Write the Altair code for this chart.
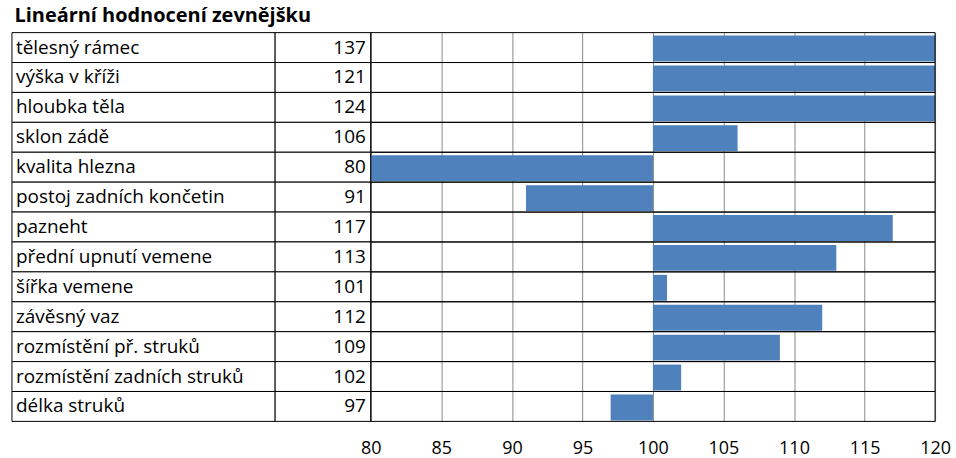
import altair as alt
import pandas as pd

categories = ["tělesný rámec", "výška v kříži", "hloubka těla", "sklon zádě",
              "kvalita hlezna", "postoj zadních končetin", "pazneht",
              "přední upnutí vemene", "šířka vemene", "závěsný vaz",
              "rozmístění př. struků", "rozmístění zadních struků", "délka struků"]
values = [137, 121, 124, 106, 80, 91, 117, 113, 101, 112, 109, 102, 97]
ticks = [80, 85, 90, 95, 100, 105, 110, 115, 120]
baseline = 100
title = "Lineární hodnocení zevnějšku"

df = pd.DataFrame({"cat": categories, "val": values})

FONT = "Open Sans"
H = 390
LW = 360
DIV = 264
RW = 566

ysc = alt.Y("cat:N", sort=categories, axis=None,
            scale=alt.Scale(paddingInner=0, paddingOuter=0))

base_l = alt.Chart(df).properties(width=LW, height=H)
cell1 = base_l.mark_rect(fill="white", stroke="black", strokeWidth=1).encode(
    y=ysc, x=alt.value(0), x2=alt.value(DIV))
cell2 = base_l.mark_rect(fill="white", stroke="black", strokeWidth=1).encode(
    y=ysc, x=alt.value(DIV), x2=alt.value(LW))
lab = base_l.mark_text(align="left", baseline="middle", font=FONT, fontSize=19,
                       color="black").encode(
    y=ysc, x=alt.value(4), text="cat:N")
num = base_l.mark_text(align="right", baseline="middle", font=FONT, fontSize=19,
                       color="black").encode(
    y=ysc, x=alt.value(LW - 5), text="val:Q")
left = alt.layer(cell1, cell2, lab, num)

base_r = alt.Chart(df).properties(width=RW, height=H)
xenc = alt.X("val:Q",
             scale=alt.Scale(domain=[80, 120], clamp=True, nice=False, zero=False),
             axis=alt.Axis(values=ticks, grid=True, gridColor="#8a8a8a", gridWidth=1,
                           ticks=False, domain=False, title=None, labelFont=FONT,
                           labelFontSize=18, labelColor="black", labelPadding=18,
                           labelFlush=False, labelOverlap=False, labelBound=False))
bars = base_r.mark_bar(color="#4F81BD", size=26, yOffset=1).encode(
    y=ysc, x=xenc, x2=alt.datum(baseline))
rows = base_r.mark_rect(fillOpacity=0, stroke="black", strokeWidth=1).encode(
    y=ysc, x=alt.value(0), x2=alt.value(RW))
right = alt.layer(bars, rows)

chart = alt.hconcat(left, right, spacing=0, bounds="flush").properties(
    title=alt.TitleParams(title, anchor="start", font=FONT, fontSize=20,
                          fontWeight="bold", color="black", offset=6, dx=3),
    padding={"left": 11, "top": 5, "right": 5, "bottom": 0},
).configure_view(stroke=None).configure_concat(spacing=0)

chart.save("out.html", embed_options={"renderer": "svg", "actions": False})
